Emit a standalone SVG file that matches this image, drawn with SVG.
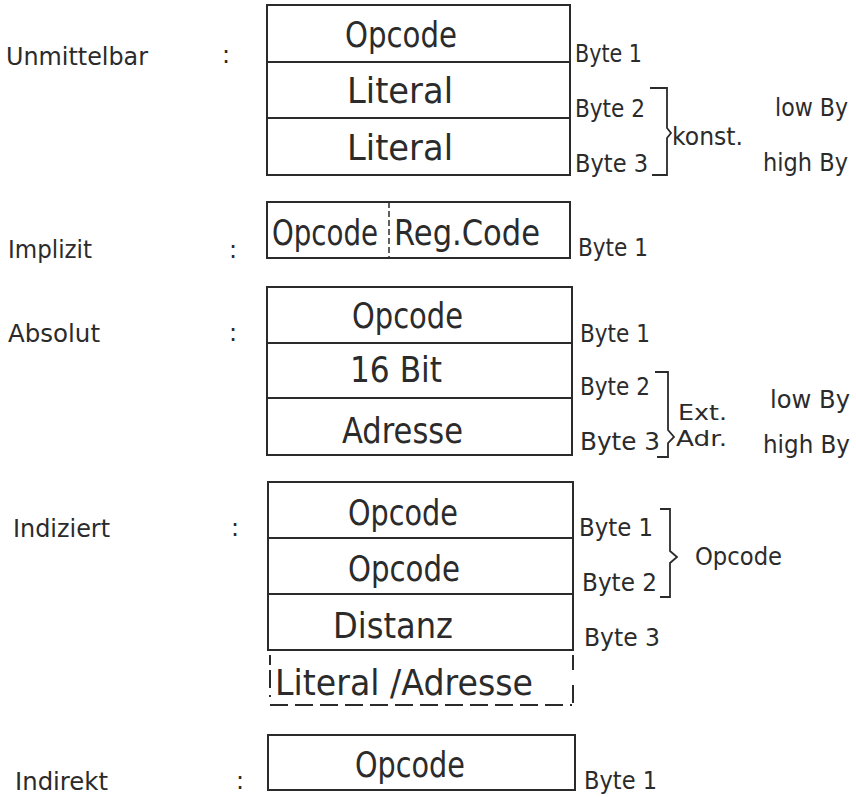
<svg xmlns="http://www.w3.org/2000/svg" width="856" height="797" viewBox="0 0 856 797">
<style>
text{font-family:"DejaVu Sans","Liberation Sans",sans-serif;fill:#2b2b2b}
.big{font-size:35px}
.lbl{font-size:24px}
.sm{font-size:25px}
.xs{font-size:22px}
.box{fill:none;stroke:#2b2b2b;stroke-width:2}
.dash{fill:none;stroke:#2b2b2b;stroke-width:2;stroke-dasharray:18 7}
.br{fill:none;stroke:#2b2b2b;stroke-width:1.8}
</style>
<rect width="856" height="797" fill="#fff"/>

<g id="unmittelbar">
<text class="lbl" x="6" y="65" textLength="142" lengthAdjust="spacingAndGlyphs">Unmittelbar</text>
<text class="lbl" x="222" y="63">:</text>
<rect class="box" x="267" y="5" width="303" height="170"/>
<line class="box" x1="267" y1="62" x2="570" y2="62"/>
<line class="box" x1="267" y1="118" x2="570" y2="118"/>
<text class="big" x="345" y="47" textLength="112" lengthAdjust="spacingAndGlyphs">Opcode</text>
<text class="big" x="347" y="103" textLength="106" lengthAdjust="spacingAndGlyphs">Literal</text>
<text class="big" x="347" y="160" textLength="106" lengthAdjust="spacingAndGlyphs">Literal</text>
<text class="sm" x="575" y="62" textLength="67" lengthAdjust="spacingAndGlyphs">Byte 1</text>
<text class="sm" x="575" y="117" textLength="70" lengthAdjust="spacingAndGlyphs">Byte 2</text>
<text class="sm" x="575" y="172" textLength="73" lengthAdjust="spacingAndGlyphs">Byte 3</text>
<text class="sm" x="672" y="145" textLength="71" lengthAdjust="spacingAndGlyphs">konst.</text>
<text class="sm" x="775" y="116" textLength="73" lengthAdjust="spacingAndGlyphs">low By</text>
<text class="sm" x="763" y="171" textLength="85" lengthAdjust="spacingAndGlyphs">high By</text>
</g>

<g id="implizit">
<text class="lbl" x="8" y="258" textLength="84" lengthAdjust="spacingAndGlyphs">Implizit</text>
<text class="lbl" x="229" y="258">:</text>
<rect class="box" x="267" y="202" width="303" height="56"/>
<line x1="389" y1="202" x2="389" y2="258" stroke="#2b2b2b" stroke-width="1.5" stroke-dasharray="6 3"/>
<text class="big" x="272" y="245" textLength="106" lengthAdjust="spacingAndGlyphs">Opcode</text>
<text class="big" x="394" y="245" textLength="146" lengthAdjust="spacingAndGlyphs">Reg.Code</text>
<text class="sm" x="578" y="256" textLength="70" lengthAdjust="spacingAndGlyphs">Byte 1</text>
</g>

<g id="absolut">
<text class="lbl" x="8" y="342" textLength="92" lengthAdjust="spacingAndGlyphs">Absolut</text>
<text class="lbl" x="229" y="341">:</text>
<rect class="box" x="267" y="287" width="305" height="168"/>
<line class="box" x1="267" y1="343" x2="572" y2="343"/>
<line class="box" x1="267" y1="398" x2="572" y2="398"/>
<text class="big" x="352" y="328" textLength="111" lengthAdjust="spacingAndGlyphs">Opcode</text>
<text class="big" x="350" y="382" textLength="92" lengthAdjust="spacingAndGlyphs">16 Bit</text>
<text class="big" x="342" y="443" textLength="121" lengthAdjust="spacingAndGlyphs">Adresse</text>
<text class="sm" x="580" y="342" textLength="70" lengthAdjust="spacingAndGlyphs">Byte 1</text>
<text class="sm" x="580" y="395" textLength="70" lengthAdjust="spacingAndGlyphs">Byte 2</text>
<text class="sm" x="580" y="450" textLength="80" lengthAdjust="spacingAndGlyphs">Byte 3</text>
<text class="xs" x="678" y="420" textLength="49" lengthAdjust="spacingAndGlyphs">Ext.</text>
<text class="xs" x="676" y="446" textLength="51" lengthAdjust="spacingAndGlyphs">Adr.</text>
<text class="sm" x="770" y="408" textLength="80" lengthAdjust="spacingAndGlyphs">low By</text>
<text class="sm" x="763" y="453" textLength="87" lengthAdjust="spacingAndGlyphs">high By</text>
</g>

<g id="indiziert">
<text class="lbl" x="13" y="537" textLength="97" lengthAdjust="spacingAndGlyphs">Indiziert</text>
<text class="lbl" x="231" y="536">:</text>
<rect class="box" x="268" y="482" width="305" height="168"/>
<line class="box" x1="268" y1="538" x2="573" y2="538"/>
<line class="box" x1="268" y1="594" x2="573" y2="594"/>
<text class="big" x="348" y="525" textLength="110" lengthAdjust="spacingAndGlyphs">Opcode</text>
<text class="big" x="348" y="581" textLength="112" lengthAdjust="spacingAndGlyphs">Opcode</text>
<text class="big" x="333" y="638" textLength="120" lengthAdjust="spacingAndGlyphs">Distanz</text>
<text class="big" x="275" y="695" textLength="258" lengthAdjust="spacingAndGlyphs">Literal /Adresse</text>
<path class="dash" d="M270,655 V665 M270,670 V697 M270,705 H572 M573,655 V670 M573,685 V703"/>
<text class="sm" x="579" y="536" textLength="74" lengthAdjust="spacingAndGlyphs">Byte 1</text>
<text class="sm" x="582" y="591" textLength="75" lengthAdjust="spacingAndGlyphs">Byte 2</text>
<text class="sm" x="584" y="646" textLength="76" lengthAdjust="spacingAndGlyphs">Byte 3</text>
<text class="sm" x="695" y="565" textLength="87" lengthAdjust="spacingAndGlyphs">Opcode</text>
</g>

<g id="indirekt">
<text class="lbl" x="15" y="790" textLength="93" lengthAdjust="spacingAndGlyphs">Indirekt</text>
<text class="lbl" x="236" y="789">:</text>
<rect class="box" x="268" y="735" width="307" height="55"/>
<text class="big" x="355" y="777" textLength="110" lengthAdjust="spacingAndGlyphs">Opcode</text>
<text class="sm" x="584" y="789" textLength="73" lengthAdjust="spacingAndGlyphs">Byte 1</text>
</g>

<g id="connectors">
<path class="br" d="M650,88 H667 V128 L671,133 L667,138 V175 H652"/>
<path class="br" d="M655,372 H668 V430 L674,437 L668,443 V457 H657"/>
<path class="br" d="M660,509 H670 V551 L677,557 L670,563 V597 H660"/>
</g>
</svg>
